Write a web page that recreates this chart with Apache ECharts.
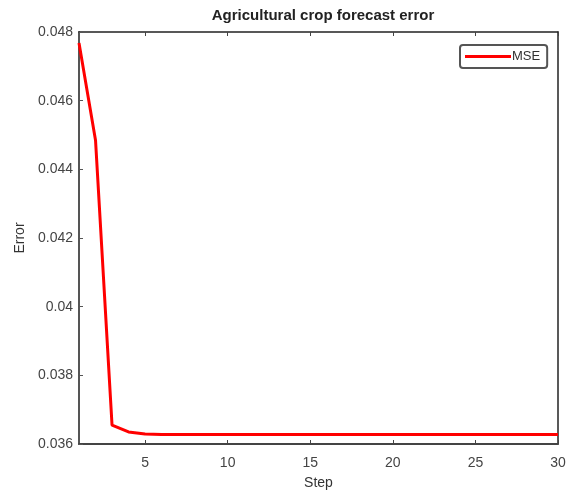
<!DOCTYPE html>
<html>
<head>
<meta charset="utf-8">
<style>
  html, body { margin: 0; padding: 0; background: #fff; }
  #chart { width: 568px; height: 492px; }
</style>
<script src="https://cdn.jsdelivr.net/npm/echarts@6/dist/echarts.min.js"></script>
</head>
<body>
<div id="chart"></div>
<script>
// steps 1..30
const steps = [];
for (let i = 1; i <= 30; i++) steps.push(i);

// MSE
const mse = [
  0.04768, 0.04485, 0.03655, 0.03635, 0.03629,
  0.03628, 0.03628, 0.03628, 0.03628, 0.03628,
  0.03628, 0.03628, 0.03628, 0.03628, 0.03628,
  0.03628, 0.03628, 0.03628, 0.03628, 0.03628,
  0.03628, 0.03628, 0.03628, 0.03628, 0.03628,
  0.03628, 0.03628, 0.03628, 0.03628, 0.03628
];

const yMin = 0.036, yMax = 0.048, yStep = 0.002;

const font = "Liberation Sans, Arial, sans-serif";
const labelColor = "#444";

const chart = echarts.init(document.getElementById("chart"));

// only every 5th step gets a tick / label
const every5 = (idx, val) => Number(val) % 5 === 0;

chart.setOption({
  animation: false,
  title: {
    text: "Agricultural crop forecast error",
    left: 318,
    textAlign: "center",
    top: 3,
    textStyle: { fontFamily: font, fontSize: 15, fontWeight: "bold", color: "#222" }
  },
  legend: {
    data: ["MSE"],
    left: 460,
    top: 45,
    icon: "rect",
    itemWidth: 46,
    itemHeight: 3,
    itemGap: 2,
    padding: [5, 7, 5, 5],
    borderColor: "#555",
    borderWidth: 2,
    borderRadius: 3,
    backgroundColor: "#fff",
    textStyle: { fontFamily: font, fontSize: 13, color: "#333", padding: [0, 0, 0, -4] }
  },
  grid: { left: 79, right: 10, top: 32, bottom: 48, outerBoundsMode: "none" },
  xAxis: [
    {
      type: "category",
      data: steps,
      boundaryGap: false,
      name: "Step",
      nameLocation: "middle",
      nameGap: 32,
      nameTextStyle: { fontFamily: font, fontSize: 14, color: "#333" },
      axisLine: { lineStyle: { color: "#444", width: 2 } },
      axisTick: { inside: true, length: 4, interval: every5, lineStyle: { color: "#444" } },
      axisLabel: { interval: every5, fontFamily: font, fontSize: 14, color: labelColor, margin: 12 },
      splitLine: { show: false }
    },
    {
      type: "category",
      data: steps,
      position: "top",
      boundaryGap: false,
      axisLine: { lineStyle: { color: "#222", width: 1.5 } },
      axisTick: { inside: true, length: 4, interval: every5, lineStyle: { color: "#444" } },
      axisLabel: { show: false },
      splitLine: { show: false }
    }
  ],
  yAxis: [
    {
      type: "value",
      min: yMin,
      max: yMax,
      interval: yStep,
      name: "Error",
      nameLocation: "middle",
      nameGap: 50,
      nameTextStyle: { fontFamily: font, fontSize: 14, color: "#333" },
      axisLine: { show: true, lineStyle: { color: "#555", width: 2 } },
      axisTick: { show: true, inside: true, length: 4, lineStyle: { color: "#555" } },
      axisLabel: {
        fontFamily: font, fontSize: 14, color: labelColor, margin: 6,
        formatter: v => v.toFixed(3).replace(/0+$/, "")
      },
      splitLine: { show: false }
    },
    {
      type: "value",
      min: yMin,
      max: yMax,
      interval: yStep,
      position: "right",
      axisLine: { show: true, lineStyle: { color: "#222", width: 1.5 } },
      axisTick: { show: false },
      axisLabel: { show: false },
      splitLine: { show: false }
    }
  ],
  series: [
    {
      name: "MSE",
      type: "line",
      data: mse,
      showSymbol: false,
      symbol: "none",
      lineStyle: { color: "#ff0000", width: 3 },
      itemStyle: { color: "#ff0000" }
    }
  ]
});
</script>
</body>
</html>
